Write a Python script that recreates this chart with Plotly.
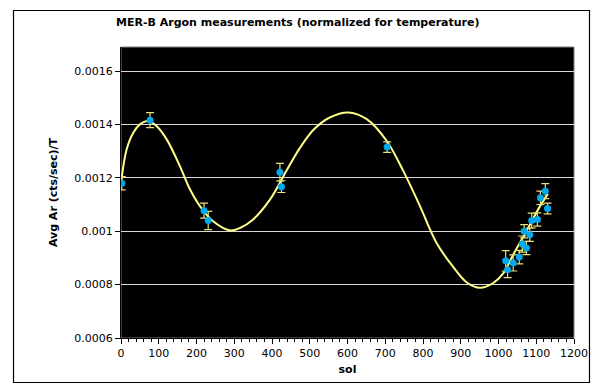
import plotly.graph_objects as go

# Measurements
sol = [2, 77, 220, 231, 421, 425, 705, 1019, 1024, 1039, 1055, 1063, 1068, 1074,
       1083, 1088, 1103, 1111, 1124, 1130]
ar = [0.00118, 0.001416, 0.001077, 0.00104, 0.001221, 0.001167, 0.001315,
      0.000889, 0.000856, 0.000881, 0.000903, 0.000952, 0.001, 0.000937,
      0.000987, 0.00104, 0.001044, 0.001125, 0.00115, 0.001085]
ar_err = [0.000025, 0.000028, 0.000028, 0.000034, 0.000033, 0.000022, 0.00002,
          0.000038, 0.00003, 0.00003, 0.000025, 0.00003, 0.000025, 0.000025,
          0.000025, 0.000028, 0.000025, 0.000025, 0.000028, 0.00002]

# Fitted trend curve
fit_sol = [0, 15, 33, 50, 72, 94, 121, 156, 183, 209, 244, 289, 315, 350, 395,
           439, 474, 510, 553, 602, 651, 704, 748, 792, 836, 880, 916, 951, 986,
           1013, 1039, 1074, 1110, 1131]
fit_ar = [0.00118, 0.001307, 0.00137, 0.0014, 0.001413, 0.001394, 0.001344,
          0.001244, 0.001156, 0.001094, 0.001037, 0.001003, 0.001012, 0.001044,
          0.001119, 0.001228, 0.001312, 0.00138, 0.001426, 0.001445, 0.00142,
          0.001338, 0.001225, 0.001094, 0.000956, 0.000866, 0.000808, 0.000788,
          0.000806, 0.000843, 0.000912, 0.001, 0.001094, 0.00114]

y_ticks = [0.0006, 0.0008, 0.001, 0.0012, 0.0014, 0.0016]
y_labels = ["0.0006", "0.0008", "0.001", "0.0012", "0.0014", "0.0016"]
x_ticks = list(range(0, 1201, 100))

FONT = "DejaVu Sans"

fig = go.Figure()
fig.add_trace(go.Scatter(
    x=fit_sol, y=fit_ar, mode="lines",
    line=dict(color="#FFFF88", width=2, shape="spline", smoothing=1.0),
    hoverinfo="skip", showlegend=False))
fig.add_trace(go.Scatter(
    x=sol, y=ar, mode="markers",
    marker=dict(color="#00A8EC", size=7),
    error_y=dict(type="data", array=ar_err, color="#E8E07A", thickness=1.2, width=4),
    showlegend=False))

fig.update_layout(
    width=592, height=384, autosize=False,
    margin=dict(l=121, r=18, t=47, b=46, autoexpand=False),
    paper_bgcolor="white", plot_bgcolor="black",
    font=dict(family=FONT, size=11, color="black"),
    title=dict(text="<b>MER-B Argon measurements (normalized for temperature)</b>",
               x=0.503, xanchor="center", y=0.943, yanchor="middle",
               font=dict(family=FONT, size=11)),
    shapes=[
        dict(type="rect", xref="paper", yref="paper",
             x0=-0.2373, x1=1.0342, y0=-0.1529, y1=1.1254,
             line=dict(color="black", width=1.2), layer="above"),
        dict(type="rect", xref="paper", yref="paper", x0=0, x1=1, y0=0, y1=1,
             line=dict(color="#808080", width=1), layer="below"),
    ],
)
fig.update_xaxes(
    range=[0, 1200], tickvals=x_ticks, ticks="outside", ticklen=5, tickcolor="black",
    showline=True, linecolor="black", linewidth=1, showgrid=False, zeroline=False,
    minor=dict(dtick=20, ticks="outside", ticklen=3, tickcolor="black", showgrid=False),
    tickfont=dict(family=FONT, size=11), automargin=False,
    title=dict(text="<b>sol</b>", font=dict(family=FONT, size=11), standoff=6),
)
fig.update_yaxes(
    range=[0.0006, 0.00169], tickvals=y_ticks, ticktext=y_labels,
    ticks="outside", ticklen=5, tickcolor="black",
    showline=True, linecolor="black", linewidth=1,
    showgrid=True, gridcolor="#D8D8D8", gridwidth=1, zeroline=False,
    tickfont=dict(family=FONT, size=11), automargin=False,
    title=dict(text="<b>Avg Ar (cts/sec)/T</b>", font=dict(family=FONT, size=11), standoff=14),
)

fig.write_html("out.html", config={"displayModeBar": False},
               post_script="document.body.style.margin='0';")
